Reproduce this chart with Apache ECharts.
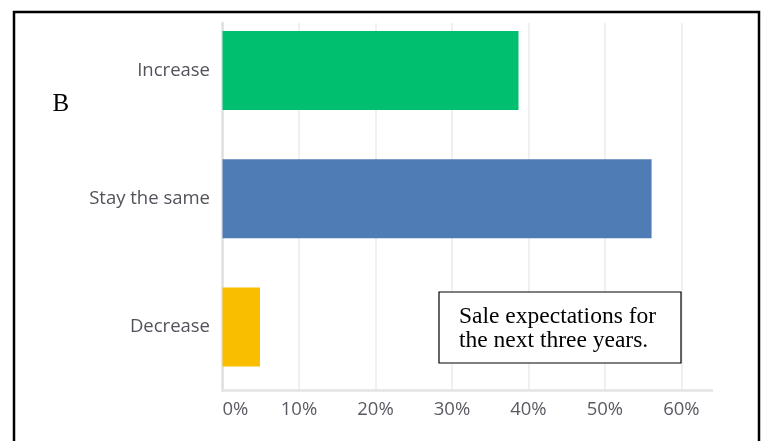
<!DOCTYPE html>
<html>
<head>
<meta charset="utf-8">
<style>
  html, body { margin: 0; padding: 0; background: #ffffff; }
  #chart { width: 762px; height: 441px; }
</style>
<script src="https://cdn.jsdelivr.net/npm/echarts@6/dist/echarts.min.js"></script>
</head>
<body>
<div id="chart"></div>
<script>
// Answer options and share of respondents (%)
const categories = ['Increase', 'Stay the same', 'Decrease'];
const shares = [38.7, 56.1, 4.9];
const barColors = ['#00bf6f', '#507cb6', '#f9be00'];
const tickInterval = 10;
const axisMax = 64;

const labelFont = '"Open Sans", "Liberation Sans", sans-serif';
const serifFont = '"Liberation Serif", "DejaVu Serif", serif';

const chart = echarts.init(document.getElementById('chart'), null, { renderer: 'canvas' });

chart.setOption({
  animation: false,
  backgroundColor: '#ffffff',
  grid: [
    // frame: vertical split lines and axis lines
    { left: 222.5, right: 50, top: 23, bottom: 50.5, containLabel: false },
    // bars and category labels
    { left: 222.5, right: 50, top: 6.3, bottom: 49.8, containLabel: false }
  ],
  xAxis: [
    {
      type: 'value', gridIndex: 0, min: 0, max: axisMax, interval: tickInterval,
      axisLine: { show: true, lineStyle: { color: '#e4e4e4', width: 2.5 } },
      axisTick: { show: false },
      splitLine: { show: true, showMaxLine: false, lineStyle: { color: '#f0f0f0', width: 2 } },
      axisLabel: {
        formatter: '{value}%', showMaxLabel: false, alignMinLabel: 'left',
        color: '#5a5a64', fontFamily: labelFont, fontSize: 18.5, margin: 9.5
      }
    },
    {
      type: 'value', gridIndex: 1, min: 0, max: axisMax, interval: tickInterval,
      show: false, splitLine: { show: false }
    }
  ],
  yAxis: [
    {
      type: 'category', gridIndex: 0, data: categories, inverse: true,
      axisLine: { show: true, lineStyle: { color: '#e0e0e0', width: 2.5 } },
      axisTick: { show: false }, axisLabel: { show: false }, splitLine: { show: false }
    },
    {
      type: 'category', gridIndex: 1, data: categories, inverse: true,
      axisLine: { show: false }, axisTick: { show: false }, splitLine: { show: false },
      axisLabel: { color: '#52525c', fontFamily: labelFont, fontSize: 18.5, margin: 12.5 }
    }
  ],
  series: [{
    type: 'bar',
    xAxisIndex: 1,
    yAxisIndex: 1,
    barWidth: 79,
    data: shares.map((v, i) => ({ value: v, itemStyle: { color: barColors[i] } })),
    silent: true
  }],
  graphic: [
    {
      type: 'rect', shape: { x: 14, y: 12, width: 745, height: 440 },
      style: { fill: 'none', stroke: '#000000', lineWidth: 2.5 }, z: 100
    },
    {
      type: 'text', x: 52.5, y: 91.5,
      style: { text: 'B', font: '25px ' + serifFont, fill: '#000000' },
      z: 100
    },
    {
      type: 'rect', shape: { x: 439, y: 292, width: 242, height: 71 },
      style: { fill: '#ffffff', stroke: '#000000', lineWidth: 1.2 }, z: 100
    },
    {
      type: 'text', x: 459, y: 304.5,
      style: { text: 'Sale expectations for', font: '23.5px ' + serifFont, fill: '#000000' },
      z: 101
    },
    {
      type: 'text', x: 459, y: 328.5,
      style: { text: 'the next three years.', font: '23.5px ' + serifFont, fill: '#000000' },
      z: 101
    }
  ]
});
</script>
</body>
</html>
